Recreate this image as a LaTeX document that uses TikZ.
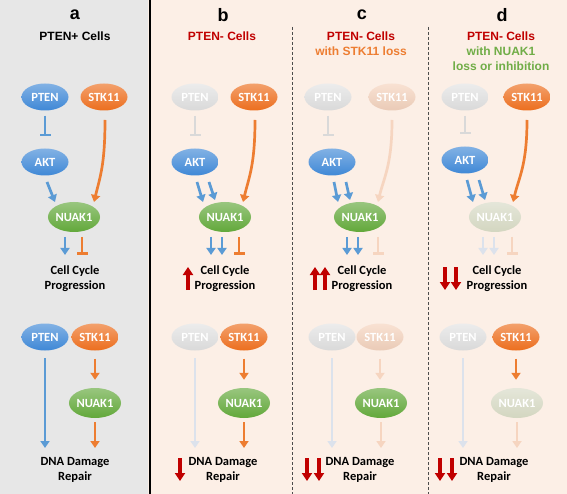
\documentclass[tikz,border=0pt]{standalone}
\usepackage{fontspec}
\setmainfont{Liberation Sans}
\newfontfamily\carlito{Carlito}
\usetikzlibrary{shapes.geometric,arrows.meta}

\definecolor{bgA}{HTML}{E7E7E7}
\definecolor{bgB}{HTML}{FCEFE6}
\definecolor{gBlue}{HTML}{5B9BD5}
\definecolor{nBlue}{HTML}{3F88D6}
\definecolor{gOrange}{HTML}{ED7D31}
\definecolor{nOrange}{HTML}{EC6E1E}
\definecolor{gGreen}{HTML}{70AD47}
\definecolor{nGreen}{HTML}{62A83A}
\definecolor{dRed}{HTML}{C00000}
\definecolor{fGrey}{HTML}{D9D9D9}
\definecolor{fBlue}{HTML}{DCE2EC}
\definecolor{fOrange}{HTML}{F6D5C0}
\definecolor{fNuak}{HTML}{D3D6C0}

\tikzset{
  gene/.style={ellipse,minimum width=47pt,minimum height=27pt,inner sep=0pt,text=white,
    font=\carlito\bfseries\fontsize{12.5}{14}\selectfont},
  nuak/.style={gene,minimum height=30pt},
  blueg/.style={top color=nBlue!65!white,bottom color=nBlue},
  orangeg/.style={top color=nOrange!65!white,bottom color=nOrange},
  greeng/.style={top color=nGreen!65!white,bottom color=nGreen},
  greyg/.style={top color=fGrey!50!white,bottom color=fGrey},
  pinkg/.style={top color=fOrange!70!white,bottom color=fOrange!95!black},
  nuakg/.style={top color=fNuak!60!white,bottom color=fNuak},
  act/.style={line width=2.7pt,-{Triangle[width=9pt,length=7pt]}},
  inh/.style={line width=2.7pt,-{Bar[width=11pt]}},
  red/.style={line width=3.5pt,draw=dRed,-{Triangle[width=10pt,length=8pt]}},
  proc/.style={align=center,font=\carlito\bfseries\fontsize{12.5}{15}\selectfont},
  ttl/.style={align=center,font=\bfseries\fontsize{12}{15}\selectfont},
  lbl/.style={font=\bfseries\fontsize{18}{20}\selectfont}
}

\begin{document}
\begin{tikzpicture}[x=1pt,y=-1pt]
\useasboundingbox (0,0) rectangle (567,494);
\fill[bgB] (0,0) rectangle (567,494);
\fill[bgA] (0,0) rectangle (148,494);
\draw[line width=2pt] (149.5,0) -- (149.5,494);
\draw[black!70,dash pattern=on 3pt off 2pt] (292,27) -- (292,494);
\draw[black!70,dash pattern=on 3pt off 2pt] (428,27) -- (428,494);

% panel a
\node[lbl] (aL) at (75,15) {a};
\node[ttl] (aT) at (75,36) {PTEN+ Cells};
\node[gene,blueg] (aPTEN) at (45,97) {PTEN};
\node[gene,orangeg] (aSTK) at (104,97) {STK11};
\node[gene,blueg] (aAKT) at (45,162) {AKT};
\node[nuak,greeng] (aNUAK) at (74,217) {NUAK1};
\node[proc] (aCC) at (75,279) {Cell Cycle\\Progression};
\draw[inh,gBlue,shorten <=5pt,shorten >=12pt] (aPTEN) -- (aAKT);
\draw[act,gBlue] ([shift={(2,20)}]aAKT.center) -- ([shift={(-19,-15)}]aNUAK.center);
\draw[act,gOrange] ([shift={(1,23)}]aSTK.center) .. controls +(0,45) and +(6,-25) .. ([shift={(20,-15)}]aNUAK.center);
\draw[act,gBlue] ([shift={(-9,20)}]aNUAK.center) -- ([shift={(-10,-24)}]aCC.center);
\draw[inh,gOrange] ([shift={(8,20)}]aNUAK.center) -- ([shift={(7,-24)}]aCC.center);
\node[gene,blueg] (aPTEN2) at (45,337) {PTEN};
\node[gene,orangeg] (aSTK2) at (95,337) {STK11};
\node[nuak,greeng] (aNUAK2) at (95,403) {NUAK1};
\node[proc] (aDNA) at (75,470) {DNA Damage\\Repair};
\draw[act,gBlue] ([shift={(0,21)}]aPTEN2.center) -- ([shift={(-30,-22)}]aDNA.center);
\draw[act,gOrange,shorten <=8pt,shorten >=8pt] (aSTK2) -- (aNUAK2);
\draw[act,gOrange] ([shift={(0,19)}]aNUAK2.center) -- ([shift={(20,-22)}]aDNA.center);

% panel b
\begin{scope}[xshift=150pt]
\node[lbl] (bL) at (73,15) {b};
\node[ttl,dRed] (bT) at (72,36) {PTEN- Cells};
\node[gene,greyg] (bPTEN) at (45,97) {PTEN};
\node[gene,orangeg] (bSTK) at (104,97) {STK11};
\node[gene,blueg] (bAKT) at (45,162) {AKT};
\node[nuak,greeng] (bNUAK) at (75,217) {NUAK1};
\node[proc] (bCC) at (75,279) {Cell Cycle\\Progression};
\draw[inh,fGrey,shorten <=5pt,shorten >=12pt] (bPTEN) -- (bAKT);
\draw[act,gBlue] ([shift={(2,20)}]bAKT.center) -- ([shift={(-22,-15)}]bNUAK.center);
\draw[act,gBlue] ([shift={(14,20)}]bAKT.center) -- ([shift={(-10,-17)}]bNUAK.center);
\draw[act,gOrange] ([shift={(1,23)}]bSTK.center) .. controls +(0,45) and +(6,-25) .. ([shift={(18,-15)}]bNUAK.center);
\draw[act,gBlue] ([shift={(-14,20)}]bNUAK.center) -- ([shift={(-14,-24)}]bCC.center);
\draw[act,gBlue] ([shift={(-3,20)}]bNUAK.center) -- ([shift={(-3,-24)}]bCC.center);
\draw[inh,gOrange] ([shift={(14,20)}]bNUAK.center) -- ([shift={(14,-24)}]bCC.center);
\draw[red] ([shift={(-37,11)}]bCC.center) -- ++(0,-23);
\node[gene,greyg] (bPTEN2) at (45,337) {PTEN};
\node[gene,orangeg] (bSTK2) at (94,337) {STK11};
\node[nuak,greeng] (bNUAK2) at (94,403) {NUAK1};
\node[proc] (bDNA) at (73,470) {DNA Damage\\Repair};
\draw[act,fBlue] ([shift={(0,21)}]bPTEN2.center) -- ([shift={(-28,-22)}]bDNA.center);
\draw[act,gOrange,shorten <=8pt,shorten >=8pt] (bSTK2) -- (bNUAK2);
\draw[act,gOrange] ([shift={(0,19)}]bNUAK2.center) -- ([shift={(21,-22)}]bDNA.center);
\draw[red] ([shift={(-43,-12)}]bDNA.center) -- ++(0,23);
\end{scope}

% panel c
\begin{scope}[xshift=286pt]
\node[lbl] (cL) at (76,15) {c};
\node[ttl] (cT) at (75,43.5) {\textcolor{dRed}{PTEN- Cells}\\\textcolor{gOrange}{with STK11 loss}};
\node[gene,greyg] (cPTEN) at (42,97) {PTEN};
\node[gene,pinkg] (cSTK) at (106,97) {STK11};
\node[gene,blueg] (cAKT) at (46,162) {AKT};
\node[nuak,greeng] (cNUAK) at (74,217) {NUAK1};
\node[proc] (cCC) at (76,279) {Cell Cycle\\Progression};
\draw[inh,fGrey,shorten <=5pt,shorten >=12pt] (cPTEN) -- (cPTEN|-cAKT.north);
\draw[act,gBlue] ([shift={(2,20)}]cAKT.center) -- ([shift={(-22,-15)}]cNUAK.center);
\draw[act,gBlue] ([shift={(14,20)}]cAKT.center) -- ([shift={(-10,-17)}]cNUAK.center);
\draw[act,fOrange] ([shift={(0,23)}]cSTK.center) .. controls +(0,45) and +(6,-25) .. ([shift={(18,-15)}]cNUAK.center);
\draw[act,gBlue] ([shift={(-13,20)}]cNUAK.center) -- ([shift={(-15,-24)}]cCC.center);
\draw[act,gBlue] ([shift={(-2,20)}]cNUAK.center) -- ([shift={(-4,-24)}]cCC.center);
\draw[inh,fOrange] ([shift={(18,20)}]cNUAK.center) -- ([shift={(16,-24)}]cCC.center);
\draw[red] ([shift={(-47,11)}]cCC.center) -- ++(0,-23);
\draw[red] ([shift={(-37,11)}]cCC.center) -- ++(0,-23);
\node[gene,greyg] (cPTEN2) at (46,337) {PTEN};
\node[gene,pinkg] (cSTK2) at (94,337) {STK11};
\node[nuak,greeng] (cNUAK2) at (95,403) {NUAK1};
\node[proc] (cDNA) at (74,470) {DNA Damage\\Repair};
\draw[act,fBlue] ([shift={(0,21)}]cPTEN2.center) -- ([shift={(-28,-22)}]cDNA.center);
\draw[act,fOrange,shorten <=8pt,shorten >=8pt] (cSTK2) -- (cSTK2|-cNUAK2.north);
\draw[act,fOrange] ([shift={(0,19)}]cNUAK2.center) -- ([shift={(21,-22)}]cDNA.center);
\draw[red] ([shift={(-53,-12)}]cDNA.center) -- ++(0,23);
\draw[red] ([shift={(-41,-12)}]cDNA.center) -- ++(0,23);
\end{scope}

% panel d
\begin{scope}[xshift=421pt]
\node[lbl] (dL) at (81,15) {d};
\node[ttl] (dT) at (80,51) {\textcolor{dRed}{PTEN- Cells}\\\textcolor{gGreen}{with NUAK1}\\\textcolor{gGreen}{loss or inhibition}};
\node[gene,greyg] (dPTEN) at (44,97) {PTEN};
\node[gene,orangeg] (dSTK) at (106,97) {STK11};
\node[gene,blueg] (dAKT) at (44,160) {AKT};
\node[nuak,nuakg] (dNUAK) at (74,217) {NUAK1};
\node[proc] (dCC) at (76,279) {Cell Cycle\\Progression};
\draw[inh,fGrey,shorten <=5pt,shorten >=12pt] (dPTEN) -- (dAKT);
\draw[act,gBlue] ([shift={(2,20)}]dAKT.center) -- ([shift={(-22,-15)}]dNUAK.center);
\draw[act,gBlue] ([shift={(14,20)}]dAKT.center) -- ([shift={(-10,-17)}]dNUAK.center);
\draw[act,gOrange] ([shift={(0,23)}]dSTK.center) .. controls +(0,45) and +(6,-25) .. ([shift={(18,-15)}]dNUAK.center);
\draw[act,fBlue] ([shift={(-12,20)}]dNUAK.center) -- ([shift={(-14,-24)}]dCC.center);
\draw[act,fBlue] ([shift={(-1,20)}]dNUAK.center) -- ([shift={(-3,-24)}]dCC.center);
\draw[inh,fOrange] ([shift={(17,20)}]dNUAK.center) -- ([shift={(15,-24)}]dCC.center);
\draw[red] ([shift={(-52,-12)}]dCC.center) -- ++(0,23);
\draw[red] ([shift={(-41,-12)}]dCC.center) -- ++(0,23);
\node[gene,greyg] (dPTEN2) at (42,337) {PTEN};
\node[gene,orangeg] (dSTK2) at (95,337) {STK11};
\node[nuak,nuakg] (dNUAK2) at (96,403) {NUAK1};
\node[proc] (dDNA) at (73,470) {DNA Damage\\Repair};
\draw[act,fBlue] ([shift={(0,21)}]dPTEN2.center) -- ([shift={(-31,-22)}]dDNA.center);
\draw[act,gOrange,shorten <=8pt,shorten >=8pt] (dSTK2) -- (dSTK2|-dNUAK2.north);
\draw[act,fOrange] ([shift={(0,19)}]dNUAK2.center) -- ([shift={(23,-22)}]dDNA.center);
\draw[red] ([shift={(-54,-12)}]dDNA.center) -- ++(0,23);
\draw[red] ([shift={(-42,-12)}]dDNA.center) -- ++(0,23);
\end{scope}
\end{tikzpicture}
\end{document}
